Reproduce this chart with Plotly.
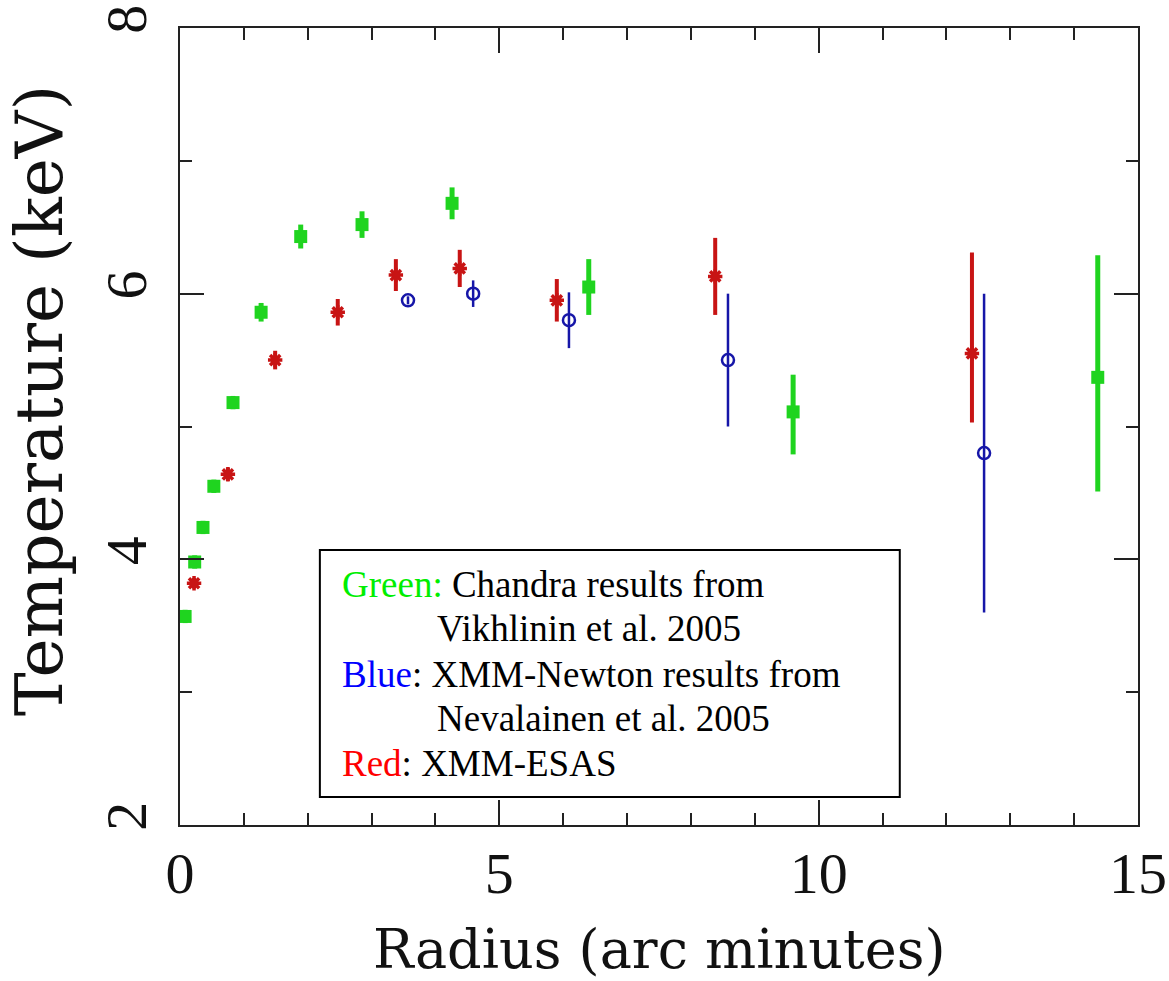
import plotly.graph_objects as go

# Chandra (Vikhlinin et al. 2005)
chandra_r = [0.08, 0.23, 0.36, 0.53, 0.83, 1.27, 1.89, 2.85, 4.26, 6.40, 9.60, 14.37]
chandra_t = [3.57, 3.98, 4.24, 4.55, 5.18, 5.86, 6.43, 6.52, 6.68, 6.05, 5.11, 5.37]
chandra_err_hi = [0.05, 0.05, 0.05, 0.05, 0.05, 0.07, 0.09, 0.10, 0.12, 0.21, 0.28, 0.92]
chandra_err_lo = [0.05, 0.05, 0.05, 0.05, 0.05, 0.07, 0.09, 0.10, 0.12, 0.21, 0.32, 0.86]

# XMM-Newton (Nevalainen et al. 2005)
newton_r = [3.57, 4.59, 6.09, 8.58, 12.59]
newton_t = [5.95, 6.00, 5.80, 5.50, 4.80]
newton_err = [0.03, 0.10, 0.21, 0.50, 1.20]

# XMM-ESAS
esas_r = [0.22, 0.75, 1.49, 2.47, 3.38, 4.38, 5.90, 8.38, 12.40]
esas_t = [3.82, 4.64, 5.50, 5.86, 6.14, 6.19, 5.95, 6.13, 5.55]
esas_err_hi = [0.04, 0.05, 0.07, 0.10, 0.12, 0.14, 0.16, 0.29, 0.76]
esas_err_lo = [0.04, 0.05, 0.07, 0.10, 0.12, 0.14, 0.16, 0.29, 0.52]

x_ticks = [0, 5, 10, 15]
y_ticks = [2, 4, 6, 8]

GREEN = "#1fd41f"
BLUE = "#1616a8"
RED = "#c81414"
TITLE_FONT = dict(family="DejaVu Serif", size=54, color="#111111")
TICK_FONT = dict(family="Liberation Serif", size=58, color="#111111")

fig = go.Figure()

fig.add_trace(go.Scatter(
    x=chandra_r, y=chandra_t, mode="markers",
    marker=dict(symbol="square", size=13, color=GREEN, line=dict(width=0)),
    error_y=dict(type="data", symmetric=False, array=chandra_err_hi,
                 arrayminus=chandra_err_lo, thickness=5, width=0, color=GREEN),
    showlegend=False,
))

fig.add_trace(go.Scatter(
    x=esas_r, y=esas_t, mode="markers",
    marker=dict(symbol="asterisk-open", size=12, color=RED,
                line=dict(width=3.5, color=RED)),
    error_y=dict(type="data", symmetric=False, array=esas_err_hi,
                 arrayminus=esas_err_lo, thickness=4, width=0, color=RED),
    showlegend=False,
))

fig.add_trace(go.Scatter(
    x=newton_r, y=newton_t, mode="markers",
    marker=dict(symbol="circle-open", size=12, color=BLUE,
                line=dict(width=2.5, color=BLUE)),
    error_y=dict(type="data", array=newton_err, thickness=2.5, width=0, color=BLUE),
    showlegend=False,
))

# Legend box
fig.add_shape(type="rect", xref="x", yref="y", x0=2.19, x1=11.27, y0=2.21, y1=4.07,
              line=dict(color="black", width=2), fillcolor="white", layer="above")

LEG_FONT = dict(family="Liberation Serif", size=37, color="black")
legend_lines = [
    (2.50, 3.81, "<span style='color:#00ee00'>Green:</span> Chandra results from"),
    (3.99, 3.48, "Vikhlinin et al. 2005"),
    (2.50, 3.13, "<span style='color:#0000ff'>Blue</span>: XMM-Newton results from"),
    (3.99, 2.80, "Nevalainen et al. 2005"),
    (2.50, 2.46, "<span style='color:#ff0000'>Red</span>: XMM-ESAS"),
]
for lx, ly, txt in legend_lines:
    fig.add_annotation(x=lx, y=ly, xref="x", yref="y", text=txt, showarrow=False,
                       xanchor="left", yanchor="middle", font=LEG_FONT)

# Axis titles
fig.add_annotation(x=0.5, y=-0.114, xref="paper", yref="paper",
                   text="Radius (arc minutes)", showarrow=False,
                   xanchor="center", yanchor="top", font=TITLE_FONT)
fig.add_annotation(x=-0.147, y=0.533, xref="paper", yref="paper",
                   text="Temperature (keV)", showarrow=False, textangle=-90,
                   xanchor="center", yanchor="middle",
                   font=dict(family="DejaVu Serif", size=66, color="#111111"))

axis_common = dict(
    showline=True, linewidth=2, linecolor="#222222", mirror="ticks",
    ticks="inside", tickwidth=2, tickcolor="#222222",
    showgrid=False, zeroline=False, tickfont=TICK_FONT,
    ticklabeloverflow="allow",
)

fig.update_xaxes(range=[0, 15], tickvals=x_ticks, ticklen=25, ticklabelstandoff=-4,
                 minor=dict(dtick=1, tick0=0, ticklen=12, tickwidth=2,
                            ticks="inside", tickcolor="#222222", showgrid=False),
                 **axis_common)
fig.update_yaxes(range=[2, 8], tickvals=y_ticks, ticklen=24, tickangle=-90,
                 ticklabelstandoff=9,
                 minor=dict(dtick=1, tick0=0, ticklen=12, tickwidth=2,
                            ticks="inside", tickcolor="#222222", showgrid=False),
                 **axis_common)

fig.update_layout(
    width=1169, height=981,
    margin=dict(l=180, r=31, t=28, b=156, autoexpand=False),
    paper_bgcolor="white", plot_bgcolor="white",
)

fig.write_html("out.html")
